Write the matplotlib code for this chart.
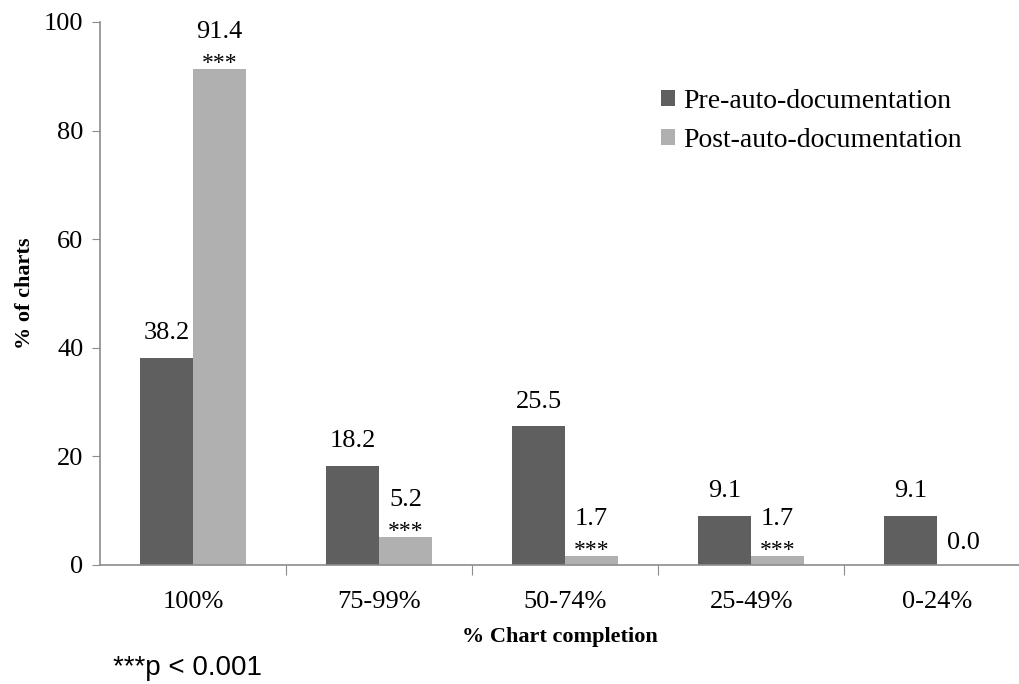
#!/usr/bin/env python
"""
Chart completion before and after auto-documentation
"""

import numpy as np
import matplotlib.pyplot as plt

# data
categories = ["100%", "75-99%", "50-74%", "25-49%", "0-24%"]
pre_values = [38.2, 18.2, 25.5, 9.1, 9.1]
post_values = [91.4, 5.2, 1.7, 1.7, 0.0]
post_significant = [True, True, True, True, False]

DARK = "#5f5f5f"
LIGHT = "#b0b0b0"
AXIS = "#8c8c8c"
SERIF = "Liberation Serif"


def plot():
    fig = plt.figure(figsize=(10.19, 6.84), dpi=100)
    ax = fig.add_axes([0.0981, 0.174, 0.902, 0.794])

    x = np.arange(len(categories))
    width = 0.285
    pre_bars = ax.bar(x - width / 2, pre_values, width, color=DARK,
                      label="Pre-auto-documentation")
    post_bars = ax.bar(x + width / 2, post_values, width, color=LIGHT,
                       label="Post-auto-documentation")

    # value labels
    for bar, val in zip(pre_bars, pre_values):
        ax.annotate(f"{val:.1f}", (bar.get_x() + bar.get_width() / 2, val),
                    xytext=(0, 10), textcoords="offset points",
                    ha="center", va="bottom", fontsize=19, family=SERIF)
    for bar, val, sig in zip(post_bars, post_values, post_significant):
        cx = bar.get_x() + bar.get_width() / 2
        if sig:
            ax.annotate("***", (cx, val), xytext=(0, -4),
                        textcoords="offset points", ha="center", va="bottom",
                        fontsize=17, family=SERIF)
            offset = 18.5
        else:
            offset = 8
        ax.annotate(f"{val:.1f}", (cx, val), xytext=(0, offset),
                    textcoords="offset points", ha="center", va="bottom",
                    fontsize=19, family=SERIF)

    ax.set_ylim(0, 100)
    ax.set_xlim(-0.5, 4.44)
    ax.set_yticks(range(0, 101, 20))
    ax.set_yticklabels([str(v) for v in range(0, 101, 20)],
                       fontsize=19, family=SERIF)

    # ticks between groups, labels at group centres
    ax.set_xticks([0.5, 1.5, 2.5, 3.5])
    ax.set_xticklabels([])
    ax.set_xticks(x, minor=True)
    ax.set_xticklabels(categories, minor=True, fontsize=19, family=SERIF)
    ax.tick_params(axis="x", which="minor", length=0, pad=19)
    ax.tick_params(axis="x", which="major", length=7, color=AXIS)
    ax.tick_params(axis="y", length=6, color=AXIS, pad=6)

    for side in ["top", "right"]:
        ax.spines[side].set_visible(False)
    for side in ["left", "bottom"]:
        ax.spines[side].set_color(AXIS)
        ax.spines[side].set_linewidth(1.2)

    ax.set_xlabel("% Chart completion", fontsize=16, family=SERIF,
                  fontweight="bold", labelpad=10)
    ax.set_ylabel("% of charts", fontsize=16, family=SERIF,
                  fontweight="bold", labelpad=6)

    ax.legend(loc="upper left", bbox_to_anchor=(0.624, 0.907),
              bbox_transform=fig.transFigure, frameon=False,
              prop={"family": SERIF, "size": 20}, handlelength=0.5,
              handleheight=0.5, handletextpad=0.3, labelspacing=0.5)

    fig.text(0.111, 0.004, "***p < 0.001", fontsize=20,
             family="Liberation Sans", ha="left", va="bottom")

    fig.savefig("out.png", dpi=100)


if __name__ == "__main__":
    plot()
